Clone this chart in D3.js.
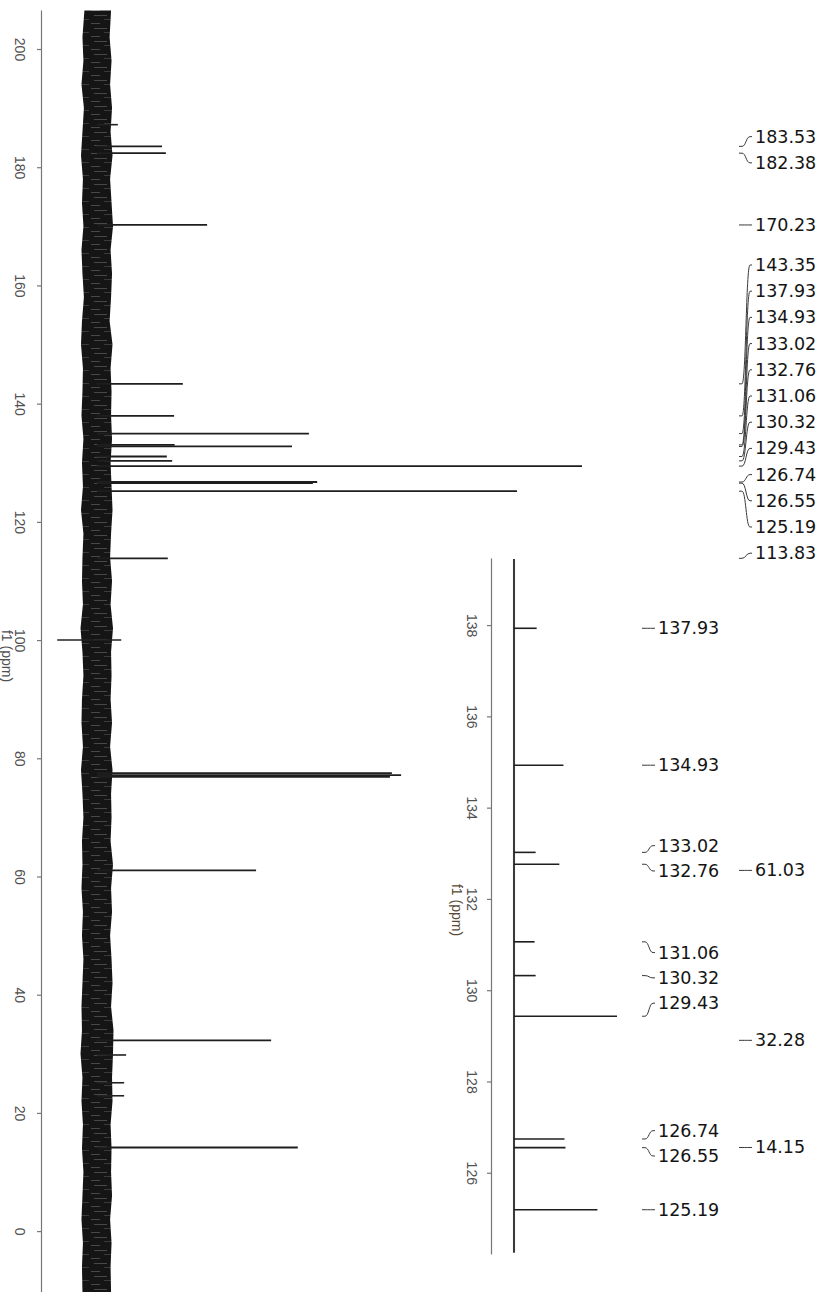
<!DOCTYPE html>
<html><head><meta charset="utf-8">
<script src="https://cdn.jsdelivr.net/npm/d3@7"></script>
<style>html,body{margin:0;padding:0;background:#fff}svg{display:block}</style>
</head><body>
<svg id="c" width="829" height="1292"></svg>
<script>
// ---------- data ----------
const mainTicks = [200, 180, 160, 140, 120, 100, 80, 60, 40, 20, 0];
const insetTicks = [138, 136, 134, 132, 130, 128, 126];

// main spectrum peaks (ppm, relative height; 129.43 = 100)
const mainPeakPpm = [183.53, 182.38, 170.23, 143.35, 137.93, 134.93, 133.02, 132.76, 131.06, 130.32, 129.43, 126.74, 126.55, 125.19, 113.83, 77.48, 77.16, 76.84, 61.03, 32.28, 14.15];
const mainPeakHeight = [13.4, 14.2, 22.7, 17.7, 15.9, 43.7, 16.0, 40.2, 14.4, 15.5, 100, 45.4, 44.5, 86.6, 14.6, 60.8, 62.7, 60.4, 32.8, 35.9, 41.4];

// small features sticking out of the noise (ppm, low, high)
const spikePpm = [187.2, 100.0, 29.8, 25.1, 22.9];
const spikeLo = [0, -8.2, 0, 0, 0];
const spikeHi = [4.3, 5.0, 6.0, 5.6, 5.6];

// noise band envelope of the main spectrum
const noisePpm = [206.5, 202, 198, 194, 190, 186, 182, 178, 174, 170, 166, 162, 158, 154, 150, 146, 142, 138, 134, 130, 126, 122, 118, 114, 110, 106, 102, 98, 94, 90, 86, 82, 78, 74, 70, 66, 62, 58, 54, 50, 46, 42, 38, 34, 30, 26, 22, 18, 14, 10, 6, 2, -2, -6, -10.3];
const noiseLo = [-2.6, -3.0, -2.8, -3.2, -2.7, -3.0, -3.3, -2.9, -3.1, -2.8, -3.2, -3.0, -2.7, -3.1, -3.3, -2.9, -3.0, -3.2, -2.8, -3.1, -2.9, -3.3, -2.8, -3.0, -3.1, -2.9, -3.4, -3.0, -2.8, -3.1, -3.2, -2.9, -3.3, -3.0, -2.8, -3.1, -3.0, -3.2, -2.9, -3.1, -2.8, -3.0, -3.2, -3.1, -3.4, -3.0, -3.2, -2.9, -3.1, -2.8, -3.0, -3.2, -2.9, -3.1, -3.0];
const noiseHi = [2.9, 2.6, 3.0, 2.7, 3.1, 2.8, 3.2, 2.7, 3.0, 3.3, 2.8, 3.1, 2.9, 2.6, 3.2, 2.8, 3.0, 2.9, 3.1, 2.8, 3.0, 3.2, 2.9, 2.7, 3.1, 2.8, 3.3, 2.9, 3.0, 2.8, 3.1, 2.7, 3.2, 2.9, 3.0, 2.8, 3.3, 2.9, 3.1, 2.7, 3.0, 3.2, 2.9, 3.4, 3.3, 3.1, 3.2, 2.8, 3.0, 2.9, 3.1, 2.7, 3.0, 2.8, 2.9];

// inset (expanded 124-139.5 ppm)
const insetPeakPpm = [137.93, 134.93, 133.02, 132.76, 131.06, 130.32, 129.43, 126.74, 126.55, 125.19];
const insetPeakHeight = [22, 48, 21, 44, 20, 21, 100, 49, 50, 81];
const insetNoisePpm = [139.45, 124.25];
const insetNoiseLo = [-1.0, -1.0];
const insetNoiseHi = [1.0, 1.0];

// peak labels
const mainLabels = [183.53, 182.38, 170.23, 143.35, 137.93, 134.93, 133.02, 132.76, 131.06, 130.32, 129.43, 126.74, 126.55, 125.19, 113.83, 61.03, 32.28, 14.15];
const insetLabels = [137.93, 134.93, 133.02, 132.76, 131.06, 130.32, 129.43, 126.74, 126.55, 125.19];
const axisTitle = "f1 (ppm)";

// ---------- drawing ----------
const svg = d3.select("#c");
svg.append("rect").attr("width", 829).attr("height", 1292).attr("fill", "#fff");

const yMain = d3.scaleLinear().domain([206.6, -10.3]).range([10, 1292]);
const xMain = d3.scaleLinear().domain([0, 100]).range([97, 582]);
const yIn = d3.scaleLinear().domain([139.47, 124.22]).range([558, 1254]);
const xIn = d3.scaleLinear().domain([0, 100]).range([514, 617]);

const defs = svg.append("defs");
const pat = defs.append("pattern").attr("id", "streak").attr("patternUnits", "userSpaceOnUse")
  .attr("width", 30).attr("height", 13);
pat.append("rect").attr("width", 30).attr("height", 13).attr("fill", "#151515");
pat.append("rect").attr("x", 4).attr("y", 2).attr("width", 13).attr("height", 0.8).attr("fill", "#555");
pat.append("rect").attr("x", 14).attr("y", 6).attr("width", 15).attr("height", 0.7).attr("fill", "#4a4a4a");
pat.append("rect").attr("x", 1).attr("y", 10).attr("width", 9).attr("height", 0.7).attr("fill", "#5e5e5e");

const tickFont = "14px 'Liberation Sans', Arial, sans-serif";

function drawAxis(scale, ticks, x, labelOffset) {
  const g = svg.append("g").attr("transform", `translate(${x},0)`)
    .call(d3.axisLeft(scale).tickValues(ticks).tickSize(4).tickSizeOuter(0).tickFormat(d3.format("d")));
  g.select(".domain").attr("stroke", "#777").attr("stroke-width", 1.2);
  g.selectAll(".tick line").attr("stroke", "#777").attr("stroke-width", 1.2);
  g.selectAll(".tick text").attr("x", null).attr("dy", null).attr("y", null)
    .attr("text-anchor", "middle").attr("dominant-baseline", "central")
    .attr("transform", `translate(${-labelOffset},0) rotate(90)`)
    .attr("fill", "#505050").style("font", tickFont);
  return g;
}

drawAxis(yMain, mainTicks, 41, 21);
drawAxis(yIn, insetTicks, 491, 19);

svg.append("text").attr("transform", "translate(7,656) rotate(90)")
  .attr("text-anchor", "middle").attr("dominant-baseline", "central")
  .attr("fill", "#505050").style("font", tickFont).text(axisTitle);
svg.append("text").attr("transform", "translate(457,910) rotate(90)")
  .attr("text-anchor", "middle").attr("dominant-baseline", "central")
  .attr("fill", "#5a4a34").style("font", tickFont).text(axisTitle);

// main noise band
const noiseData = noisePpm.map((p, i) => ({ p, lo: noiseLo[i], hi: noiseHi[i] })).filter(d => d.lo !== undefined && d.hi !== undefined);
const area = d3.area().y(d => yMain(d.p)).x0(d => xMain(d.lo)).x1(d => xMain(d.hi));
svg.append("path").attr("d", area(noiseData)).attr("fill", "url(#streak)");

const line = d3.line();
// spikes
spikePpm.forEach((p, i) => {
  svg.append("path").attr("d", line([[xMain(spikeLo[i]), yMain(p)], [xMain(spikeHi[i]), yMain(p)]]))
    .attr("stroke", "#222").attr("stroke-width", 1.6).attr("fill", "none");
});
// main peaks
mainPeakPpm.forEach((p, i) => {
  svg.append("path").attr("d", line([[xMain(0), yMain(p)], [xMain(mainPeakHeight[i]), yMain(p)]]))
    .attr("stroke", "#1e1e1e").attr("stroke-width", 1.8).attr("fill", "none");
});

// inset trace
const inNoise = insetNoisePpm.map((p, i) => ({ p, lo: insetNoiseLo[i], hi: insetNoiseHi[i] }));
const areaIn = d3.area().y(d => yIn(d.p)).x0(d => xIn(d.lo)).x1(d => xIn(d.hi));
svg.append("path").attr("d", areaIn(inNoise)).attr("fill", "#3a3a3a");
insetPeakPpm.forEach((p, i) => {
  svg.append("path").attr("d", line([[xIn(0), yIn(p)], [xIn(insetPeakHeight[i]), yIn(p)]]))
    .attr("stroke", "#1e1e1e").attr("stroke-width", 1.6).attr("fill", "none");
});

// ---------- peak labels ----------
function layoutLabels(vals, scale, step, gapMerge, bigTop) {
  const items = vals.map(v => ({ v, y: scale(v) })).sort((a, b) => a.y - b.y);
  const clusters = items.map(it => ({ items: [it] }));
  const place = c => {
    const m = d3.mean(c.items, d => d.y);
    c.top = m - (c.items.length - 1) * step / 2;
  };
  clusters.forEach(place);
  let changed = true;
  while (changed) {
    changed = false;
    for (let i = 0; i < clusters.length - 1; i++) {
      const a = clusters[i], b = clusters[i + 1];
      const aBottom = a.top + (a.items.length - 1) * step;
      const gapReal = b.items[0].y - a.items[a.items.length - 1].y;
      if (b.top - aBottom < step || gapReal < gapMerge) {
        a.items = a.items.concat(b.items); place(a); clusters.splice(i + 1, 1);
        changed = true; break;
      }
    }
  }
  clusters.forEach(c => {
    if (bigTop !== undefined && c.items.length >= 10) c.top = bigTop;
    c.items.forEach((it, k) => { it.ly = c.top + k * step; });
  });
  return items;
}

function drawLabels(items, x0, x1) {
  const g = svg.append("g");
  items.forEach(it => {
    const xm = (x0 + 3 + x1 - 2) / 2;
    const d = `M${x0},${it.y}L${x0 + 3},${it.y}C${xm},${it.y} ${xm},${it.ly} ${x1 - 2},${it.ly}L${x1},${it.ly}`;
    g.append("path").attr("d", d).attr("fill", "none").attr("stroke", "#3a3a3a").attr("stroke-width", 1);
    g.append("text").attr("x", x1 + 3).attr("y", it.ly).attr("dominant-baseline", "central")
      .attr("fill", "#141414").style("font", "17.5px 'DejaVu Sans', Verdana, sans-serif")
      .text(it.v.toFixed(2));
  });
}

drawLabels(layoutLabels(mainLabels, yMain, 26.2, 44, 265), 739, 752);
drawLabels(layoutLabels(insetLabels, yIn, 25.3, 42), 642, 655);
</script>
</body></html>
